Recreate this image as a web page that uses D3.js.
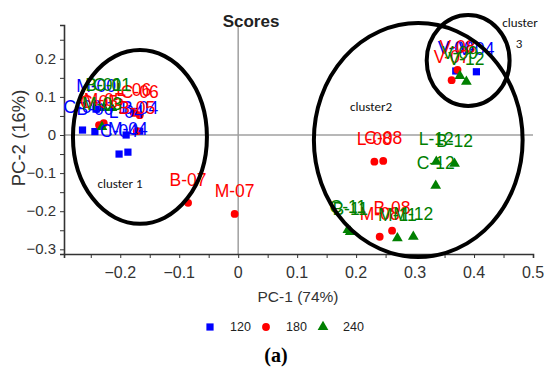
<!DOCTYPE html>
<html>
<head>
<meta charset="utf-8">
<script src="https://cdn.jsdelivr.net/npm/d3@7"></script>
<style>
html,body{margin:0;padding:0;background:#fff;}
svg{display:block;}
</style>
</head>
<body>
<svg id="chart" width="544" height="367"></svg>
<script>
// ---- data ----
const groups = ["120", "180", "240"];
const groupColors = ["#0000ff", "#ff0000", "#008000"];

const labels120 = ["C-00", "B-00", "M-00", "L-04", "B-04", "C-04", "M-04", "V-00", "V-04"];
const pc1_120 = [-0.264, -0.243, -0.241, -0.190, -0.167, -0.202, -0.187, 0.369, 0.404];
const pc2_120 = [0.013, 0.009, 0.068, 0.000, 0.010, -0.050, -0.045, 0.168, 0.166];

const labels180 = ["C-05", "M-05", "B-05", "L-06", "C-06", "B-07", "M-07", "L-08", "C-08", "M-08", "B-08", "V-07", "V-08"];
const pc1_180 = [-0.236, -0.228, -0.172, -0.177, -0.167, -0.085, -0.006, 0.231, 0.246, 0.240, 0.261, 0.362, 0.372];
const pc2_180 = [0.026, 0.031, 0.010, 0.058, 0.052, -0.178, -0.207, -0.070, -0.068, -0.267, -0.251, 0.144, 0.171];

const labels240 = ["B-01", "C-01", "M-03", "L-12", "B-12", "C-12", "M-11", "M-12", "C-11", "B-11", "V-09", "V-12"];
const pc1_240 = [-0.228, -0.214, -0.231, 0.336, 0.367, 0.335, 0.270, 0.297, 0.186, 0.190, 0.376, 0.387];
const pc2_240 = [0.071, 0.071, 0.021, -0.070, -0.075, -0.133, -0.271, -0.267, -0.249, -0.254, 0.155, 0.140];

const xTicks = [-0.2, -0.1, 0, 0.1, 0.2, 0.3, 0.4, 0.5];
const yTicks = [-0.3, -0.2, -0.1, 0, 0.1, 0.2];

const clusterNames = ["cluster 1", "cluster2", "cluster 3"];
const clusterCx = [-0.1666, 0.3054, 0.390];
const clusterCy = [-0.005, -0.0131, 0.1955];
const clusterRx = [0.1136, 0.177, 0.0703];
const clusterRy = [0.228, 0.307, 0.1194];

// ---- build ----
const svg = d3.select("#chart");
const x = d3.scaleLinear().domain([-0.2954, 0.5]).range([64, 533]);
const y = d3.scaleLinear().domain([-0.3123, 0.2887]).range([254, 25]);
const sans = "Liberation Sans, Arial, sans-serif";
const narrow = "Liberation Sans Narrow, Liberation Sans, Arial, sans-serif";

const points = [];
[[labels120, pc1_120, pc2_120], [labels180, pc1_180, pc2_180], [labels240, pc1_240, pc2_240]]
  .forEach((s, gi) => s[0].forEach((lab, i) => points.push({g: gi, label: lab, x: s[1][i], y: s[2][i]})));

// zero lines
svg.append("line").attr("x1", x.range()[0]).attr("x2", x.range()[1])
  .attr("y1", y(0)).attr("y2", y(0)).attr("stroke", "#a0a0a0").attr("stroke-width", 1.5);
svg.append("line").attr("y1", y.range()[0]).attr("y2", y.range()[1])
  .attr("x1", x(0)).attr("x2", x(0)).attr("stroke", "#a0a0a0").attr("stroke-width", 1.5);

// axes
const minorX = d3.range(-0.25, 0.5001, 0.05);
const minorY = d3.range(-0.3, 0.2801, 0.05);
const gx = svg.append("g").attr("transform", `translate(0,${y.range()[0]})`)
  .call(d3.axisBottom(x).tickValues(minorX).tickSize(4).tickFormat(""));
const gy = svg.append("g").attr("transform", `translate(${x.range()[0]},0)`)
  .call(d3.axisLeft(y).tickValues(minorY).tickSize(4).tickFormat(""));
[gx, gy].forEach(g => {
  g.select(".domain").attr("stroke", "#333").attr("stroke-width", 1.6);
  g.selectAll(".tick line").attr("stroke", "#333").attr("stroke-width", 1);
});
const fmt = d => (d === 0 ? "0" : d3.format(".1f")(d));
svg.append("g").selectAll("text").data(xTicks).join("text")
  .attr("x", d => x(d)).attr("y", 278).attr("text-anchor", "middle")
  .attr("font-family", sans).attr("font-size", 16).attr("fill", "#333")
  .text(fmt);
svg.append("g").selectAll("text").data(yTicks).join("text")
  .attr("x", 56).attr("y", d => y(d) + 5).attr("text-anchor", "end")
  .attr("font-family", sans).attr("font-size", 15).attr("fill", "#333")
  .text(fmt);

// axis titles
svg.append("text").attr("x", 298).attr("y", 302).attr("text-anchor", "middle")
  .attr("font-family", sans).attr("font-size", 15.5).attr("fill", "#333")
  .text("PC-1 (74%)");
svg.append("text").attr("transform", "translate(25,138) rotate(-90)").attr("text-anchor", "middle")
  .attr("font-family", sans).attr("font-size", 18.5).attr("fill", "#333")
  .text("PC-2 (16%)");
svg.append("text").attr("x", 251).attr("y", 27).attr("text-anchor", "middle")
  .attr("font-family", sans).attr("font-size", 17).attr("font-weight", "bold")
  .attr("fill", "#222").text("Scores");

// markers
const sym = [d3.symbolSquare, d3.symbolCircle, d3.symbolTriangle];
const symSize = [52, 48, 50];
svg.append("g").selectAll("path").data(points).join("path")
  .attr("transform", d => `translate(${x(d.x)},${y(d.y)})`)
  .attr("d", d => d3.symbol().type(sym[d.g]).size(symSize[d.g])())
  .attr("fill", d => groupColors[d.g]);

// labels
svg.append("g").selectAll("text").data(points).join("text")
  .attr("x", d => x(d.x)).attr("y", d => y(d.y) - 17).attr("text-anchor", "middle")
  .attr("font-family", narrow).attr("font-size", 17.5)
  .attr("fill", d => groupColors[d.g]).text(d => d.label);

// cluster ellipses
svg.append("g").selectAll("ellipse").data(clusterNames).join("ellipse")
  .attr("cx", (d, i) => x(clusterCx[i])).attr("cy", (d, i) => y(clusterCy[i]))
  .attr("rx", (d, i) => x(clusterRx[i]) - x(0)).attr("ry", (d, i) => y(0) - y(clusterRy[i]))
  .attr("fill", "none").attr("stroke", "#000").attr("stroke-width", 4);

// cluster text
const cfont = "Carlito, Calibri, Liberation Sans, Arial, sans-serif";
svg.append("text").attr("x", 120).attr("y", 188).attr("text-anchor", "middle")
  .attr("font-family", cfont).attr("font-size", 13).attr("fill", "#111").text(clusterNames[0]);
svg.append("text").attr("x", 371).attr("y", 111).attr("text-anchor", "middle")
  .attr("font-family", cfont).attr("font-size", 13).attr("fill", "#111").text(clusterNames[1]);
const c3 = clusterNames[2].split(" ");
svg.append("text").attr("x", 520).attr("y", 27).attr("text-anchor", "middle")
  .attr("font-family", cfont).attr("font-size", 13).attr("fill", "#111").text(c3[0]);
svg.append("text").attr("x", 519).attr("y", 48).attr("text-anchor", "middle")
  .attr("font-family", cfont).attr("font-size", 13).attr("fill", "#111").text(c3[1]);

// legend
const legX = [210, 266, 323];
const lg = svg.append("g");
groups.forEach((g, i) => {
  lg.append("path").attr("transform", `translate(${legX[i]},327)`)
    .attr("d", d3.symbol().type(sym[i]).size(symSize[i])()).attr("fill", groupColors[i]);
  lg.append("text").attr("x", legX[i] + 20).attr("y", 331)
    .attr("font-family", narrow).attr("font-size", 12.5)
    .attr("fill", "#222").text(g);
});

svg.append("text").attr("x", 276).attr("y", 362).attr("text-anchor", "middle")
  .attr("font-family", "Liberation Serif, Times New Roman, serif").attr("font-size", 20).attr("font-weight", "bold")
  .attr("fill", "#000").text("(a)");
</script>
</body>
</html>
